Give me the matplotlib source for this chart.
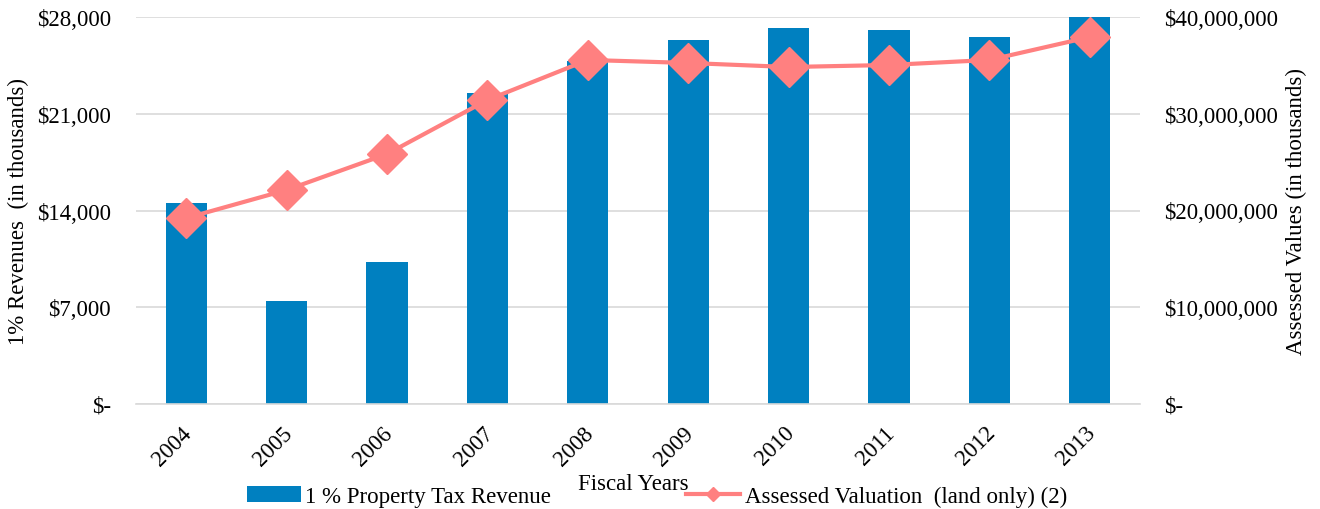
import matplotlib
matplotlib.use('Agg')
import matplotlib.pyplot as plt
import matplotlib.transforms as mtransforms
from matplotlib.ticker import FuncFormatter

plt.rcParams['font.family'] = ['Liberation Serif', 'DejaVu Serif']

years = ['2004', '2005', '2006', '2007', '2008', '2009', '2010', '2011', '2012', '2013']
# 1% property tax revenue (thousands)
revenue = [14540, 7450, 10270, 22500, 24820, 26340, 27200, 27060, 26550, 28000]
# assessed valuation, land only (thousands)
assessed = [19220000, 22120000, 25840000, 31420000, 35560000,
            35250000, 34830000, 35040000, 35560000, 37930000]

bar_color = '#0080C0'
line_color = '#FF8080'
fs = 16.5

fig = plt.figure(figsize=(13.2, 5.1), dpi=100)
ax = fig.add_axes([136/1320, 105/510, 1004/1320, 387/510])
ax2 = ax.twinx()

x = range(len(years))
bars = ax.bar(x, revenue, width=0.41, color=bar_color, zorder=2,
              label='1 % Property Tax Revenue')
line, = ax2.plot(x, assessed, color=line_color, lw=3, marker='D', ms=20,
                 zorder=3, label='Assessed Valuation  (land only) (2)')

ax.set_xlim(-0.5, len(years) - 0.5)
ax.set_ylim(0, 28000)
ax.set_yticks([0, 7000, 14000, 21000, 28000])
ax2.set_ylim(0, 40000000)
ax2.set_yticks([0, 10000000, 20000000, 30000000, 40000000])

def money(v, pos):
    return '$-' if v == 0 else '${:,.0f}'.format(v)

ax.yaxis.set_major_formatter(FuncFormatter(money))
ax2.yaxis.set_major_formatter(FuncFormatter(money))

ax.grid(axis='y', color='#D9D9D9', lw=1.2, zorder=0)
ax.set_axisbelow(True)
for a in (ax, ax2):
    for s in a.spines.values():
        s.set_visible(False)
    a.tick_params(length=0, labelsize=fs)
ax.spines['bottom'].set_visible(True)
ax.spines['bottom'].set_color('#D9D9D9')
ax.spines['bottom'].set_linewidth(1.2)
ax2.set_zorder(ax.get_zorder() + 1)
ax2.patch.set_visible(False)

ax.set_xticks(list(x))
ax.set_xticklabels(years, rotation=45, ha='right', rotation_mode='anchor')
ax.tick_params(axis='x', pad=13)
shift = mtransforms.ScaledTranslation(-5/100, 0, fig.dpi_scale_trans)
for lbl in ax.get_xticklabels():
    lbl.set_transform(lbl.get_transform() + shift)
ax.tick_params(axis='y', pad=18)
ax2.tick_params(axis='y', pad=17)

ax.set_ylabel('1% Revenues  (in thousands)', fontsize=fs, labelpad=6)
ax2.set_ylabel('Assessed Values (in thousands)', fontsize=fs, labelpad=6)

fig.text(633/1320, 1 - 485/510, 'Fiscal Years', fontsize=fs,
         ha='center', va='center')

leg_line = plt.Line2D([], [], color=line_color, lw=3, marker='D', ms=7)
fig.legend([bars, leg_line], [bars.get_label(), line.get_label()],
           loc='center', bbox_to_anchor=(657/1320, 1 - 497/510), ncol=2,
           frameon=False, fontsize=fs, handlelength=2.35, handletextpad=0.2,
           columnspacing=5.9)

fig.savefig('out.png', dpi=100)
